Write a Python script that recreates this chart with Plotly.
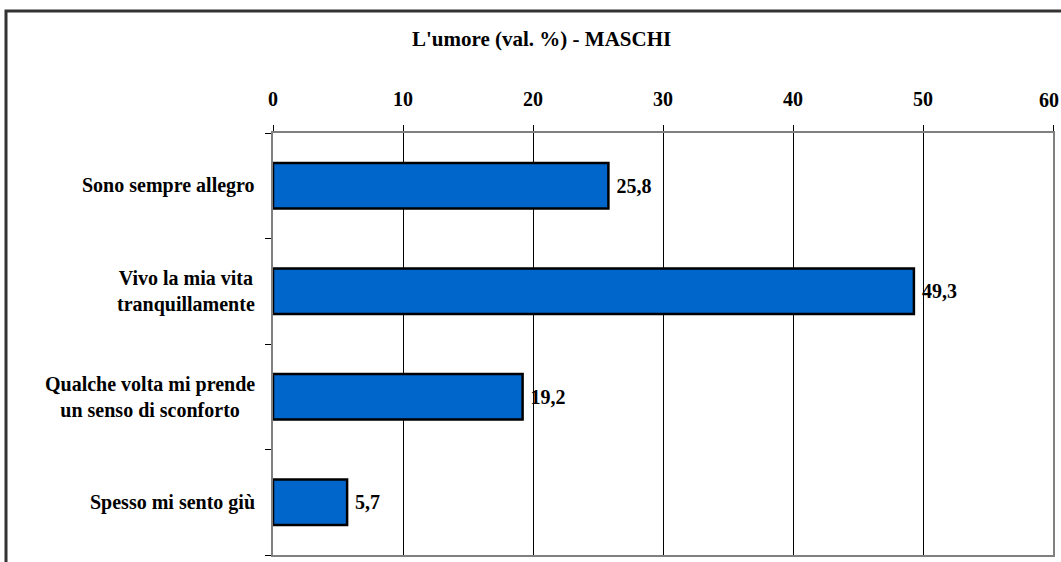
import plotly.graph_objects as go

categories = ["Sono sempre allegro", "Vivo la mia vita<br>tranquillamente",
              "Qualche volta mi prende<br>un senso di sconforto", "Spesso mi sento giù"]
values = [25.8, 49.3, 19.2, 5.7]
x_ticks = [0, 10, 20, 30, 40, 50, 60]

W, H = 1061, 562
L, R, T, B = 273, 8, 133, 7
pw, ph = W - L - R, H - T - B

def px_x(p):
    return (p - L) / pw

def px_y(p):
    return 1 - (p - T) / ph

serif = "Liberation Serif"
FS = 20

fig = go.Figure()
fig.add_trace(go.Bar(
    y=list(range(len(values))), x=values, orientation="h",
    width=0.43,
    marker=dict(color="#0066CC", line=dict(color="black", width=2.5)),
    texttemplate=" %{x:.1f}", textposition="outside",
    textfont=dict(family=serif, size=FS, color="black", weight="bold"),
    cliponaxis=False, hoverinfo="skip",
))

for i, c in enumerate(categories):
    fig.add_annotation(x=px_x(257), xref="paper", y=i, yref="y", text="<b>" + c + "</b>",
                       xanchor="right", yanchor="middle", align="center", showarrow=False,
                       font=dict(family=serif, size=FS, color="black"))

fig.add_annotation(x=px_x(541), xref="paper", y=px_y(39), yref="paper",
                   text="<b>L'umore (val. %) - MASCHI</b>", showarrow=False,
                   xanchor="center", yanchor="middle",
                   font=dict(family=serif, size=21, color="black"))

# last tick label shifted inward so it stays inside the page (as in the reference)
tick_text = [str(t) for t in x_ticks[:-1]] + [""]
fig.add_annotation(x=x_ticks[-1], xref="x", y=px_y(100), yref="paper",
                   text="<b>" + str(x_ticks[-1]) + "</b>", showarrow=False,
                   xanchor="right", yanchor="middle", xshift=8,
                   font=dict(family=serif, size=FS, color="black"))

fig.add_shape(type="rect", xref="paper", yref="paper",
              x0=px_x(6), x1=px_x(1075), y0=px_y(580), y1=px_y(11),
              line=dict(color="#333333", width=3), fillcolor="rgba(0,0,0,0)", layer="below")

fig.update_layout(
    width=W, height=H, margin=dict(l=L, r=R, t=T, b=B, autoexpand=False),
    paper_bgcolor="white", plot_bgcolor="white", showlegend=False,
    separators=",.",
    xaxis=dict(side="top", range=[0, 60], tickvals=x_ticks, ticktext=tick_text,
               ticks="outside", ticklen=6,
               tickcolor="black", showgrid=True, gridcolor="black", gridwidth=1,
               zeroline=False, showline=True, linecolor="#808080", linewidth=2, mirror=True,
               ticklabelstandoff=11, ticklabeloverflow="allow", automargin=False,
               tickfont=dict(family=serif, size=FS, color="black", weight="bold")),
    yaxis=dict(range=[3.5, -0.5], tickvals=[-0.5, 0.5, 1.5, 2.5, 3.5], ticks="outside",
               ticklen=6, tickcolor="black", showticklabels=False, showgrid=False,
               automargin=False,
               zeroline=False, showline=True, linecolor="#808080", linewidth=2, mirror=True),
)

fig.write_html("out.html", config={"displayModeBar": False},
               post_script="document.body.style.margin='0';document.body.style.overflow='hidden';")
